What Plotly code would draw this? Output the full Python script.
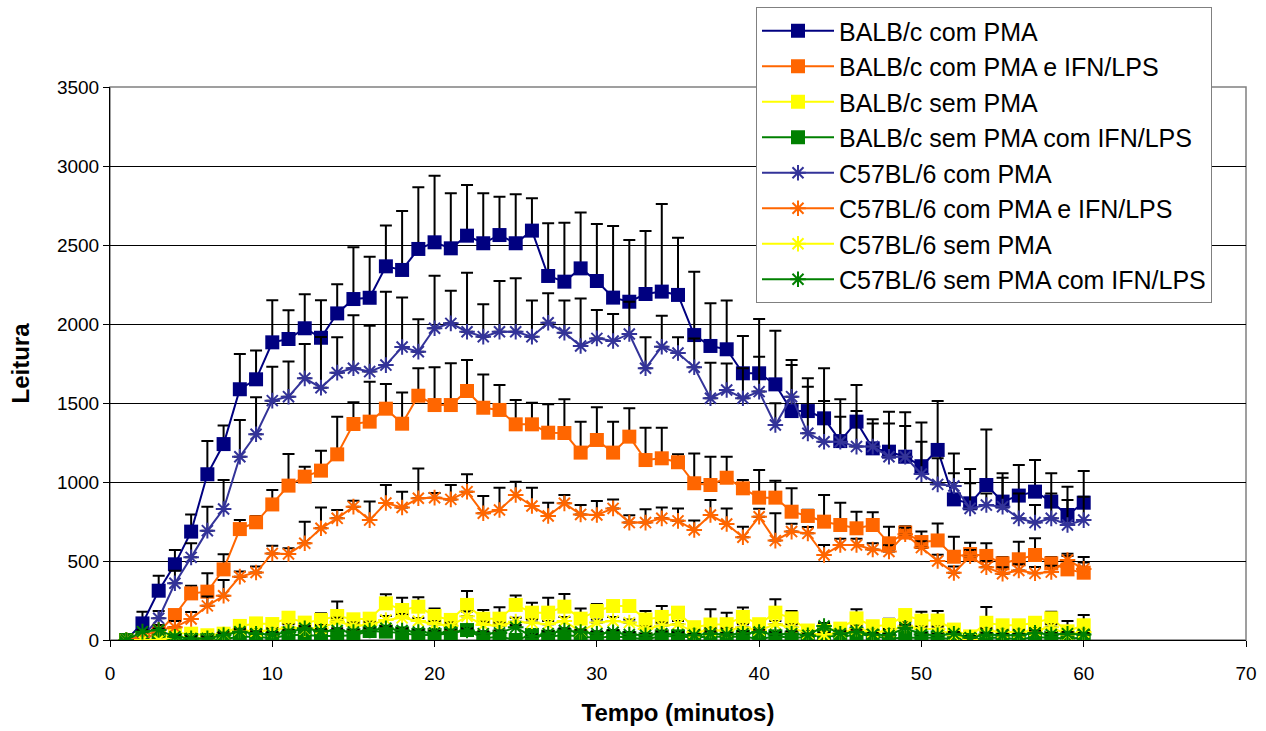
import plotly.graph_objects as go

tempo = list(range(1, 61))

balb_pma = [0, 105, 312, 479, 686, 1049, 1240, 1587, 1650, 1884, 1905, 1973, 1913, 2067, 2158, 2166, 2365, 2342, 2475, 2517,
            2479, 2559, 2511, 2563, 2511, 2591, 2304, 2268, 2352, 2272, 2167, 2141, 2190, 2205, 2184, 1930, 1861, 1840, 1688, 1688,
            1618, 1449, 1449, 1403, 1259, 1382, 1213, 1192, 1160, 1100, 1203, 890, 865, 981, 876, 914, 939, 876, 791, 869]
balb_pma_err = [0, 74, 95, 91, 109, 210, 118, 223, 183, 266, 182, 215, 237, 184, 327, 260, 259, 373, 390, 422,
                348, 321, 316, 243, 310, 205, 333, 373, 353, 361, 453, 391, 399, 554, 362, 401, 270, 308, 236, 344,
                340, 323, 207, 317, 264, 232, 184, 253, 281, 276, 310, 291, 217, 352, 179, 194, 200, 179, 179, 201]

balb_pma_ifn = [0, 0, 50, 158, 295, 306, 447, 702, 745, 858, 977, 1034, 1072, 1175, 1367, 1382, 1464, 1369, 1546, 1487,
                1487, 1576, 1470, 1456, 1365, 1365, 1312, 1310, 1186, 1266, 1186, 1287, 1139, 1150, 1125, 992, 981, 1027, 960, 901,
                901, 812, 785, 749, 728, 707, 728, 612, 680, 620, 630, 527, 544, 532, 485, 511, 538, 485, 447, 426]
balb_pma_ifn_err = [0, 0, 20, 30, 49, 116, 95, 57, 40, 91, 200, 63, 126, 238, 137, 253, 156, 198, 174, 239,
                    264, 196, 211, 158, 154, 137, 180, 213, 196, 207, 196, 179, 205, 194, 50, 189, 179, 133, 53, 175,
                    107, 148, 40, 169, 141, 105, 80, 105, 40, 66, 108, 127, 72, 80, 40, 111, 106, 40, 85, 99]

balb_sem = [0, 0, 10, 44, 40, 30, 40, 89, 105, 101, 141, 110, 127, 152, 131, 135, 232, 190, 211, 152,
            127, 222, 135, 135, 222, 173, 173, 211, 135, 184, 215, 215, 130, 146, 173, 81, 98, 100, 146, 100,
            173, 137, 60, 60, 72, 137, 87, 95, 158, 123, 123, 66, 23, 109, 93, 93, 109, 137, 55, 93]
balb_sem_err = [0, 0, 10, 10, 10, 10, 15, 20, 20, 20, 20, 30, 42, 91, 20, 20, 57, 78, 59, 48,
                38, 88, 55, 72, 59, 63, 95, 80, 65, 44, 31, 31, 54, 69, 30, 20, 96, 73, 59, 20,
                85, 47, 20, 20, 20, 57, 20, 40, 20, 56, 61, 20, 20, 100, 20, 20, 30, 42, 65, 65]

balb_sem_ifn = [0, 0, 0, 0, 0, 0, 5, 21, 21, 11, 32, 32, 25, 25, 30, 57, 53, 42, 32, 32,
                42, 63, 11, 21, 0, 32, 21, 32, 21, 12, 23, 12, 5, 23, 23, 15, 23, 18, 23, 5,
                23, 15, 18, 35, 15, 40, 23, 10, 15, 15, 15, 5, 0, 15, 15, 5, 18, 15, 10, 15]
balb_sem_ifn_err = [0, 0, 0, 0, 0, 0, 10, 15, 15, 15, 20, 15, 20, 20, 20, 25, 20, 20, 15, 20,
                    20, 25, 15, 20, 15, 20, 15, 20, 15, 15, 20, 15, 10, 20, 20, 15, 20, 15, 20, 10,
                    20, 15, 15, 25, 15, 25, 20, 15, 15, 15, 15, 10, 10, 15, 15, 10, 15, 15, 10, 15]

c57_pma = [0, 20, 137, 359, 523, 692, 829, 1160, 1302, 1515, 1540, 1656, 1597, 1692, 1720, 1699, 1740, 1854, 1825, 1973,
           2004, 1951, 1920, 1951, 1951, 1920, 2008, 1945, 1861, 1909, 1892, 1937, 1720, 1856, 1816, 1726, 1530, 1582, 1530, 1572,
           1361, 1540, 1308, 1255, 1255, 1224, 1224, 1160, 1160, 1050, 985, 975, 833, 854, 844, 770, 743, 770, 728, 759]
c57_pma_err = [0, 30, 47, 80, 90, 152, 184, 232, 234, 215, 222, 217, 320, 224, 335, 290, 464, 313, 205, 333,
               207, 374, 205, 321, 338, 228, 186, 203, 301, 180, 171, 204, 196, 197, 100, 183, 225, 168, 190, 221,
               137, 201, 295, 258, 158, 226, 146, 211, 194, 205, 165, 80, 159, 74, 183, 158, 111, 158, 158, 148]

c57_pma_ifn = [0, 20, 65, 80, 133, 216, 280, 401, 427, 548, 545, 612, 707, 770, 844, 759, 867, 839, 897, 901,
               890, 939, 802, 823, 918, 848, 785, 865, 795, 791, 833, 743, 743, 770, 754, 696, 791, 734, 650, 780,
               629, 686, 675, 538, 601, 601, 573, 560, 670, 585, 500, 425, 530, 460, 420, 440, 422, 430, 506, 450]
c57_pma_ifn_err = [0, 15, 30, 40, 45, 60, 100, 32, 38, 49, 36, 137, 131, 53, 38, 117, 114, 100, 189, 30,
                   91, 110, 109, 141, 84, 116, 84, 53, 59, 89, 57, 47, 84, 68, 79, 60, 95, 99, 67, 50,
                   173, 50, 40, 63, 40, 40, 40, 40, 40, 40, 40, 40, 40, 40, 40, 40, 40, 40, 40, 40]

c57_sem = [0, 0, 0, 20, 15, 10, 36, 60, 55, 60, 80, 70, 75, 116, 90, 95, 127, 140, 120, 100,
           90, 150, 95, 90, 116, 110, 100, 120, 53, 110, 120, 110, 70, 90, 100, 50, 60, 60, 80, 60,
           100, 80, 40, 35, 45, 70, 50, 55, 90, 70, 70, 30, 5, 60, 50, 50, 60, 80, 35, 50]
c57_sem_err = [0, 0, 0, 10, 10, 10, 15, 15, 15, 15, 20, 20, 20, 25, 20, 20, 25, 25, 20, 20,
               20, 30, 20, 20, 25, 20, 20, 25, 15, 20, 25, 20, 15, 20, 20, 15, 15, 15, 20, 15,
               20, 20, 15, 15, 15, 20, 15, 15, 20, 15, 15, 10, 10, 15, 15, 15, 15, 20, 10, 15]

c57_sem_ifn = [0, 53, 63, 20, 10, 10, 32, 53, 40, 35, 50, 74, 55, 60, 50, 60, 74, 60, 50, 45,
               50, 60, 40, 45, 80, 21, 40, 60, 50, 40, 49, 35, 30, 40, 35, 30, 40, 35, 40, 50,
               35, 40, 30, 88, 40, 50, 35, 30, 77, 35, 30, 40, 15, 35, 30, 30, 45, 35, 40, 35]
c57_sem_ifn_err = [0, 10, 10, 10, 10, 10, 10, 15, 15, 15, 15, 15, 15, 15, 15, 15, 15, 15, 15, 15,
                   15, 15, 15, 15, 15, 15, 15, 15, 15, 15, 15, 15, 10, 15, 15, 10, 15, 10, 15, 15,
                   15, 15, 10, 20, 15, 15, 10, 10, 20, 10, 10, 10, 10, 10, 10, 10, 15, 10, 10, 10]

series_names = ["BALB/c com PMA", "BALB/c com PMA e IFN/LPS", "BALB/c sem PMA", "BALB/c sem PMA com IFN/LPS",
                "C57BL/6 com PMA", "C57BL/6 com PMA e IFN/LPS", "C57BL/6 sem PMA", "C57BL/6 sem PMA com IFN/LPS"]
series_values = [balb_pma, balb_pma_ifn, balb_sem, balb_sem_ifn, c57_pma, c57_pma_ifn, c57_sem, c57_sem_ifn]
series_errors = [balb_pma_err, balb_pma_ifn_err, balb_sem_err, balb_sem_ifn_err,
                 c57_pma_err, c57_pma_ifn_err, c57_sem_err, c57_sem_ifn_err]
series_colors = ["#000080", "#FF6600", "#FFFF00", "#008000", "#333399", "#FF6600", "#FFFF00", "#008000"]
series_symbols = ["square"] * 4 + ["asterisk-open"] * 4

FONT = "Liberation Sans, Arial, sans-serif"

fig = go.Figure()
for name, vals, errs, col, sym in zip(series_names, series_values, series_errors, series_colors, series_symbols):
    is_sq = sym == "square"
    fig.add_trace(go.Scatter(
        x=tempo, y=vals, name=name, mode="lines+markers",
        line=dict(color=col, width=2),
        marker=dict(symbol=sym, size=14 if is_sq else 13, color=col,
                    line=dict(color=col, width=0 if is_sq else 2)),
        error_y=dict(type="data", symmetric=False, array=errs, arrayminus=[0] * len(errs),
                     color="black", thickness=2, width=6),
    ))

fig.update_layout(
    width=1266, height=731,
    margin=dict(l=110, r=20, t=87, b=91, autoexpand=False),
    paper_bgcolor="white", plot_bgcolor="white",
    font=dict(family=FONT, size=19, color="black"),
    showlegend=True,
    legend=dict(xref="container", yref="container", x=756 / 1266, y=1 - 7 / 731,
                xanchor="left", yanchor="top",
                bgcolor="white", bordercolor="#808080", borderwidth=1,
                font=dict(family=FONT, size=25, color="black"),
                itemwidth=72, tracegroupgap=0),
    xaxis=dict(range=[0, 70], dtick=10, tick0=0, showgrid=False, zeroline=False,
               showline=True, linecolor="black", linewidth=1,
               ticks="outside", ticklen=6, tickcolor="black", ticklabelstandoff=10,
               tickfont=dict(family=FONT, size=19),
               title=dict(text="<b>Tempo (minutos)</b>", font=dict(family=FONT, size=24), standoff=21)),
    yaxis=dict(range=[0, 3500], dtick=500, tick0=0, showgrid=True, gridcolor="black", gridwidth=1,
               zeroline=False, showline=True, linecolor="black", linewidth=1,
               ticks="outside", ticklen=6, tickcolor="black",
               tickfont=dict(family=FONT, size=19),
               title=dict(text="<b>Leitura</b>", font=dict(family=FONT, size=24), standoff=20)),
    shapes=[dict(type="rect", xref="paper", yref="paper", x0=0, x1=1, y0=0, y1=1,
                 line=dict(color="#808080", width=1.5), fillcolor="rgba(0,0,0,0)", layer="below")],
)

fig.write_html("out.html")
